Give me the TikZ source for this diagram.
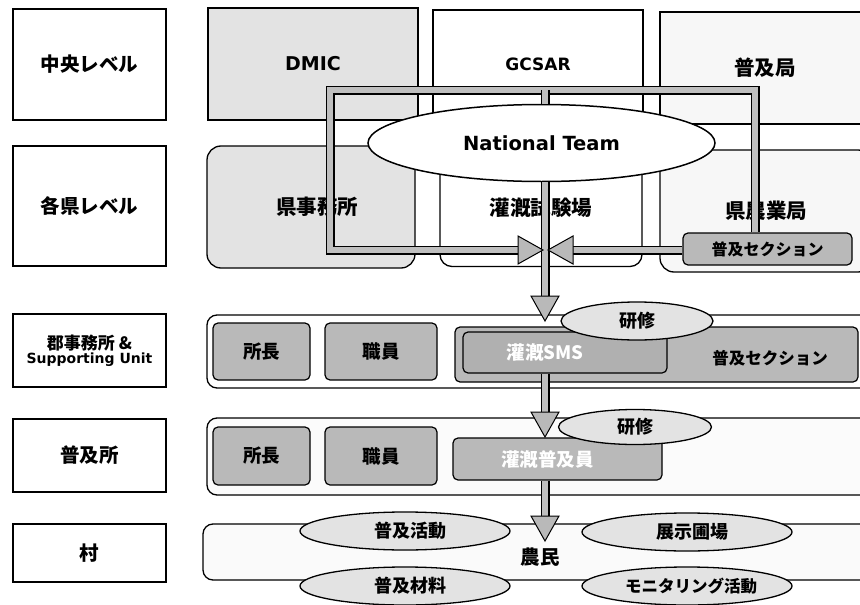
\documentclass[tikz,border=0pt]{standalone}
\usepackage{fontspec}
\setmainfont{DejaVu Sans}
\newfontfamily\jp{Noto Sans CJK JP}
\usetikzlibrary{shapes.geometric}
\tikzset{
  lab/.style={draw, line width=1.3pt, fill=white, inner sep=0pt, align=center, font=\jp\bfseries\fontsize{19.5}{22}\selectfont},
  orgbox/.style={draw, line width=1.3pt, inner sep=0pt, font=\jp\bfseries\fontsize{20.5}{23}\selectfont},
  latinbox/.style={orgbox, font=\bfseries\fontsize{19}{22}\selectfont},
  row/.style={draw, line width=1.3pt, rounded corners=10pt, inner sep=0pt},
  dark/.style={draw, line width=1.2pt, fill=gray!55, rounded corners=5pt, inner sep=0pt, font=\jp\bfseries\fontsize{18.5}{21}\selectfont},
  oval/.style={ellipse, draw, line width=1.3pt, fill=gray!22, inner sep=0pt, font=\jp\bfseries\fontsize{18}{21}\selectfont},
  pipe/.style={draw=black, line width=9pt, postaction={draw=gray!50, line width=6pt}},
  head/.style={draw=black, line width=1pt, fill=gray!55, line join=miter},
  txt/.style={inner sep=0pt, font=\jp\bfseries\fontsize{19.5}{22}\selectfont}
}
\begin{document}
\begin{tikzpicture}[x=1pt, y=-1pt]
\useasboundingbox (0,0) rectangle (860,605);
\fill[white] (0,0) rectangle (860,605);

% left level labels
\node[lab, minimum width=153pt, minimum height=111pt] (l1) at (89.5,64.5) {中央レベル};
\node[lab, minimum width=153pt, minimum height=120pt] (l2) at (89.5,206) {各県レベル};
\node[lab, minimum width=153pt, minimum height=73pt, font=\bfseries\fontsize{14}{16}\selectfont] (l3) at (89.5,350.5) {{\jp\fontsize{17}{19}\selectfont 郡事務所 \&}\\[-2pt]Supporting Unit};
\node[lab, minimum width=153pt, minimum height=73pt] (l4) at (89.5,455.5) {普及所};
\node[lab, minimum width=153pt, minimum height=58pt] (l5) at (89.5,553) {村};

% central level
\node[latinbox, fill=gray!22, minimum width=210pt, minimum height=112pt] (dmic) at (313,64) {DMIC};
\node[latinbox, font=\bfseries\fontsize{17}{20}\selectfont, fill=white, minimum width=210pt, minimum height=108pt] (gcsar) at (538,64) {GCSAR};
\node[orgbox, fill=gray!6, minimum width=210pt, minimum height=112pt] (fkk) at (765,68) {普及局};

% prefecture level
\node[orgbox, fill=gray!22, rounded corners=14pt, minimum width=208pt, minimum height=122pt] (ken) at (311,207) {\hspace*{12pt}県事務所};
\node[orgbox, fill=white, rounded corners=12pt, minimum width=202pt, minimum height=117pt] (shiken) at (541,208) {灌漑試験場};
\node[orgbox, fill=gray!6, rounded corners=14pt, minimum width=212pt, minimum height=122pt] (nogyo) at (766,211) {県農業局};
\node[dark, minimum width=169pt, minimum height=32pt, font=\jp\bfseries\fontsize{16}{19}\selectfont] (sec2) at (767.5,249) {普及セクション};

\node[ellipse, draw, line width=1.5pt, fill=white, inner sep=0pt, minimum width=347pt, minimum height=77pt, font=\bfseries\fontsize{19.5}{22}\selectfont] (nt) at (541.5,143) {National Team};

% district level
\node[row, fill=white, minimum width=663pt, minimum height=73pt] (r3) at (538.5,351.5) {};
\node[dark, minimum width=97pt, minimum height=57pt] (sc3) at (261.5,351.5) {所長};
\node[dark, minimum width=112pt, minimum height=57pt] (sy3) at (381,351.5) {職員};
\node[dark, minimum width=403pt, minimum height=55pt] (sec3) at (656.5,354.5) {};
\node[txt, font=\jp\bfseries\fontsize{16.5}{19}\selectfont] (sec3t) at (770,358) {普及セクション};
\node[dark, fill=gray!62, minimum width=204pt, minimum height=41pt, text=white] (sms) at (565,352.5) {\hspace*{-40pt}灌漑SMS};
\node[oval, minimum width=152pt, minimum height=38pt] (ken1) at (637,321) {研修};

% extension office level
\node[row, fill=gray!3, minimum width=663pt, minimum height=77pt] (r4) at (538.5,456.5) {};
\node[dark, minimum width=97pt, minimum height=58pt] (sc4) at (261.5,456) {所長};
\node[dark, minimum width=112pt, minimum height=58pt] (sy4) at (381,456) {職員};
\node[dark, minimum width=209pt, minimum height=42pt, text=white] (ext) at (557.5,459) {\hspace*{-20pt}灌漑普及員};
\node[oval, minimum width=153pt, minimum height=35pt] (ken2) at (635,427) {研修};

% village level
\node[row, fill=gray!4, minimum width=667pt, minimum height=56pt] (r5) at (536.5,552) {};
\node[oval, minimum width=210pt, minimum height=38pt] (act) at (405,531) {\hspace*{10pt}普及活動};
\node[oval, minimum width=210pt, minimum height=38pt] (demo) at (687,532) {\hspace*{10pt}展示圃場};
\node[oval, minimum width=210pt, minimum height=38pt] (mat) at (405,586) {\hspace*{10pt}普及材料};
\node[oval, minimum width=210pt, minimum height=38pt, font=\jp\bfseries\fontsize{16.5}{19}\selectfont] (mon) at (687,586) {\hspace*{8pt}モニタリング活動};
\node[txt] (farm) at (540,557) {農民};

% connector coordinates
\coordinate (pL) at (330,90);
\coordinate (pR) at (755,90);
\coordinate (pM) at (545,90);
\coordinate (aLb) at (518,250);
\coordinate (aLt) at (543,250);
\coordinate (aRb) at (573,250);
\coordinate (aRt) at (548,250);
\coordinate (a1b) at (545,296);
\coordinate (a1t) at (545,321);
\coordinate (a2b) at (545,412);
\coordinate (a2t) at (545,437);
\coordinate (a3b) at (545,516);
\coordinate (a3t) at (545,541);

% connectors
\draw[pipe] (sec2.north -| pR) -- (pR) -- (pL) |- (aLb);
\draw[pipe] (sec2.west |- aRb) -- (aRb);
\draw[pipe] (pM) -- (nt.north -| pM);
\draw[pipe] (nt.south -| pM) -- (a1b);
\draw[pipe] (sms.south -| pM) -- (a2b);
\draw[pipe] (ext.south -| pM) -- (a3b);

\draw[head] (aLt) -- ++(-25,-14) -- ++(0,28) -- cycle;
\draw[head] (aRt) -- ++(25,-14) -- ++(0,28) -- cycle;
\draw[head] (a1t) -- ++(-14,-25) -- ++(28,0) -- cycle;
\draw[head] (a2t) -- ++(-14,-25) -- ++(28,0) -- cycle;
\draw[head] (a3t) -- ++(-14,-25) -- ++(28,0) -- cycle;
\end{tikzpicture}
\end{document}
